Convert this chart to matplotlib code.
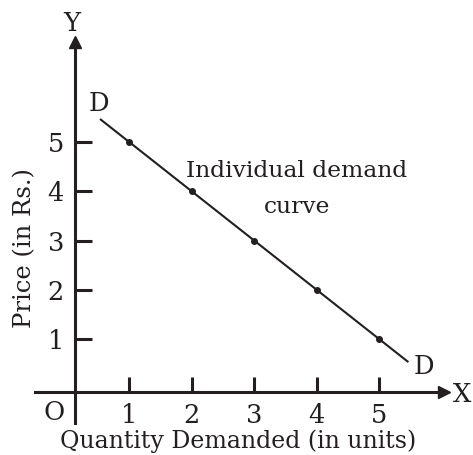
import numpy as np
import matplotlib
matplotlib.use("Agg")
import matplotlib.pyplot as plt

# Demand schedule
quantity = [1, 2, 3, 4, 5]
price = [5, 4, 3, 2, 1]
# extended ends of the drawn demand line
line_q = [0.55, 5.45]
line_p = [5.45, 0.55]

x_ticks = [1, 2, 3, 4, 5]
y_ticks = [1, 2, 3, 4, 5]

W, H = 473, 455
plt.rcParams["font.family"] = ["DejaVu Serif"]
INK = "#231f20"

fig = plt.figure(figsize=(W / 100, H / 100), dpi=100)
ax = fig.add_axes([0, 0, 1, 1])

# pixel layout of the original drawing -> data limits
x0_px, x_unit = 66.4, 62.6
y0_px, y_unit = 388.6, 49.35
ax.set_xlim(-x0_px / x_unit, (W - x0_px) / x_unit)
ax.set_ylim(-(H - y0_px) / y_unit, y0_px / y_unit)

def px_x(p):
    return (p - x0_px) / x_unit

def px_y(p):
    return (y0_px - p) / y_unit

# axes through the origin
for side in ["top", "right"]:
    ax.spines[side].set_visible(False)
ax.spines["left"].set_position(("data", px_x(75)))
ax.spines["bottom"].set_position(("data", px_y(392)))
ax.spines["left"].set_bounds(px_y(423), px_y(48))
ax.spines["bottom"].set_bounds(px_x(35), px_x(440))
for side in ["left", "bottom"]:
    ax.spines[side].set_linewidth(2.2)
    ax.spines[side].set_color(INK)

ax.plot(px_x(75), px_y(42), marker="^", color=INK, markersize=9, clip_on=False)
ax.plot(px_x(444), px_y(392), marker=">", color=INK, markersize=9, clip_on=False)

ax.set_xticks(x_ticks)
ax.set_yticks(y_ticks)
ax.tick_params(axis="both", direction="in", length=11, width=2.2, color=INK,
               labelsize=18.5, labelcolor=INK)
ax.tick_params(axis="y", length=12, pad=8)
ax.tick_params(axis="x", pad=8)

# demand curve
ax.plot(line_q, line_p, color=INK, linewidth=1.5)
ax.plot(quantity, price, "o", color=INK, markersize=4)

ax.text(px_x(72), px_y(23), "Y", fontsize=18.5, ha="center", va="center", color=INK)
ax.text(px_x(462), px_y(394), "X", fontsize=18.5, ha="center", va="center", color=INK)
ax.text(px_x(54), px_y(412), "O", fontsize=18.5, ha="center", va="center", color=INK)
ax.text(px_x(99), px_y(103), "D", fontsize=18.5, ha="center", va="center", color=INK)
ax.text(px_x(424), px_y(366), "D", fontsize=18.5, ha="center", va="center", color=INK)

ax.text(px_x(297), px_y(189), "Individual demand\ncurve", fontsize=16.8,
        ha="center", va="center", linespacing=1.8, color=INK)

ax.text(px_x(238), px_y(441), "Quantity Demanded (in units)", fontsize=17,
        ha="center", va="center", color=INK)
ax.text(px_x(25), px_y(248), "Price (in Rs.)", fontsize=17.5, rotation=90,
        ha="center", va="center", color=INK)

fig.savefig("out.png", dpi=100)
